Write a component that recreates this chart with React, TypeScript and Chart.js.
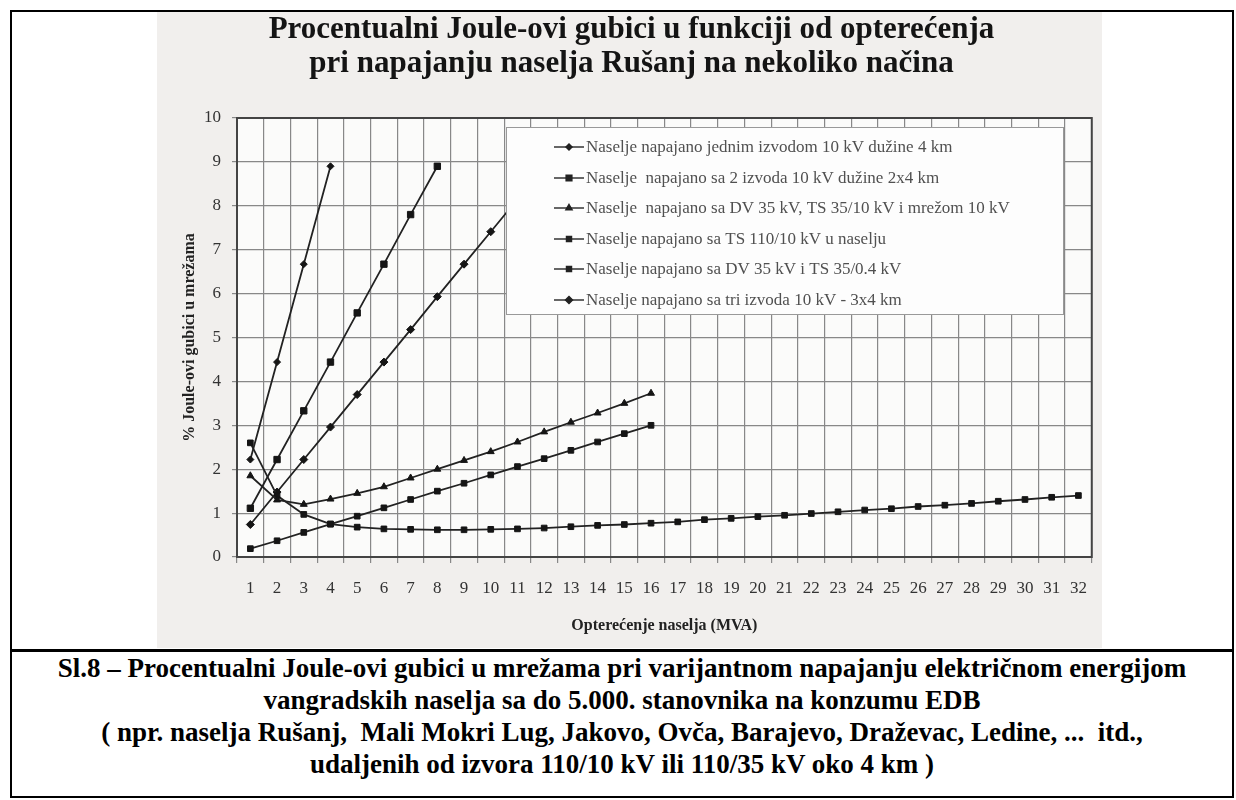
import React, { useEffect, useRef } from "react";
import { Chart, registerables } from "chart.js";
import { drawPoint } from "chart.js/helpers";

Chart.register(...registerables);

const categories = [
  "1", "2", "3", "4", "5", "6", "7", "8", "9", "10", "11", "12", "13", "14", "15", "16",
  "17", "18", "19", "20", "21", "22", "23", "24", "25", "26", "27", "28", "29", "30", "31", "32",
];

const seriesLabels = [
  "Naselje napajano jednim izvodom 10 kV dužine 4 km",
  "Naselje  napajano sa 2 izvoda 10 kV dužine 2x4 km",
  "Naselje  napajano sa DV 35 kV, TS 35/10 kV i mrežom 10 kV",
  "Naselje napajano sa TS 110/10 kV u naselju",
  "Naselje napajano sa DV 35 kV i TS 35/0.4 kV",
  "Naselje napajano sa tri izvoda 10 kV - 3x4 km",
];

const oneFeeder = [2.22, 4.44, 6.67, 8.9];
const twoFeeders = [1.11, 2.22, 3.33, 4.44, 5.56, 6.67, 7.8, 8.9];
const dv35Ts3510 = [1.85, 1.3, 1.2, 1.32, 1.45, 1.6, 1.8, 2.0, 2.2, 2.4, 2.62, 2.85, 3.07, 3.28, 3.5, 3.73];
const ts11010 = [
  2.6, 1.4, 0.97, 0.75, 0.68, 0.64, 0.63, 0.62, 0.62, 0.63, 0.64, 0.66, 0.69, 0.72, 0.74, 0.77,
  0.8, 0.85, 0.88, 0.92, 0.95, 0.99, 1.03, 1.07, 1.1, 1.15, 1.18, 1.22, 1.27, 1.31, 1.36, 1.4,
];
const dv35Ts3504 = [0.19, 0.37, 0.56, 0.75, 0.93, 1.12, 1.31, 1.5, 1.68, 1.87, 2.06, 2.24, 2.43, 2.62, 2.81, 3.0];
const threeFeeders = [0.74, 1.48, 2.22, 2.96, 3.7, 4.44, 5.18, 5.93, 6.67, 7.41, 8.15, 8.89];

const yTicks = [0, 1, 2, 3, 4, 5, 6, 7, 8, 9, 10];

const chartTitle = [
  "Procentualni Joule-ovi gubici u funkciji od opterećenja",
  "pri napajanju naselja Rušanj na nekoliko načina",
];
const xTitle = "Opterećenje naselja (MVA)";
const yTitle = "% Joule-ovi gubici u mrežama";

const captionLines = [
  "Sl.8 – Procentualni Joule-ovi gubici u mrežama pri varijantnom napajanju električnom energijom",
  "vangradskih naselja sa do 5.000. stanovnika na konzumu EDB",
  "( npr. naselja Rušanj,  Mali Mokri Lug, Jakovo, Ovča, Barajevo, Draževac, Ledine, ...  itd.,",
  "udaljenih od izvora 110/10 kV ili 110/35 kV oko 4 km )",
];

const SERIF = "'Liberation Serif', 'Times New Roman', serif";

const pointStyles = ["rectRot", "rect", "triangle", "rect", "rect", "rectRot"];
const pointRadii = [3.5, 4.5, 4, 4, 4, 4];

const bgPlugin = {
  id: "scanBg",
  beforeDraw(chart: any) {
    const { ctx, chartArea, width, height } = chart;
    ctx.save();
    ctx.fillStyle = "#f1efed";
    ctx.fillRect(0, 0, width, height);
    ctx.fillStyle = "#fbfbfa";
    ctx.fillRect(chartArea.left, chartArea.top, chartArea.right - chartArea.left, chartArea.bottom - chartArea.top);
    ctx.restore();
  },
  beforeDatasetsDraw(chart: any) {
    const { ctx, chartArea } = chart;
    ctx.save();
    ctx.strokeStyle = "#444";
    ctx.lineWidth = 2;
    ctx.strokeRect(chartArea.left, chartArea.top, chartArea.right - chartArea.left, chartArea.bottom - chartArea.top);
    ctx.restore();
  },
  afterDraw(chart: any) {
    const { ctx, width } = chart;
    ctx.save();
    ctx.fillStyle = "#141414";
    ctx.font = `bold 31px ${SERIF}`;
    ctx.textAlign = "center";
    ctx.textBaseline = "middle";
    ctx.fillText(chartTitle[0], width / 2 + 2, 18);
    ctx.fillText(chartTitle[1], width / 2 + 2, 52);
    ctx.restore();
  },
};

const legendPlugin = {
  id: "boxLegend",
  afterDatasetsDraw(chart: any) {
    const { ctx } = chart;
    const bx = 349, by = 115, bw = 557, bh = 187;
    ctx.save();
    ctx.fillStyle = "#fdfdfd";
    ctx.fillRect(bx, by, bw, bh);
    ctx.strokeStyle = "#999";
    ctx.lineWidth = 1;
    ctx.strokeRect(bx + 0.5, by + 0.5, bw, bh);
    const ys = [135, 166, 196, 227, 257, 288];
    chart.data.datasets.forEach((ds: any, i: number) => {
      const y = ys[i];
      ctx.strokeStyle = "#333";
      ctx.lineWidth = 1.5;
      ctx.beginPath();
      ctx.moveTo(397, y);
      ctx.lineTo(427, y);
      ctx.stroke();
      ctx.fillStyle = "#222";
      ctx.strokeStyle = "#222";
      drawPoint(ctx, { pointStyle: ds.pointStyle, radius: ds.pointRadius - 0.5, rotation: 0, borderWidth: 1 } as any, 412, y);
      ctx.fillStyle = "#505050";
      ctx.font = `17px ${SERIF}`;
      ctx.textAlign = "left";
      ctx.textBaseline = "middle";
      ctx.fillText(ds.label, 429, y + 1);
    });
    ctx.restore();
  },
};

export default function App() {
  const ref = useRef<HTMLCanvasElement>(null);

  useEffect(() => {
    const canvas = ref.current;
    if (!canvas) return;
    const allSeries = [oneFeeder, twoFeeders, dv35Ts3510, ts11010, dv35Ts3504, threeFeeders];
    const chart = new Chart(canvas, {
      type: "line",
      data: {
        labels: categories,
        datasets: allSeries.map((d, i) => ({
          label: seriesLabels[i],
          data: d,
          borderColor: "#222",
          backgroundColor: "#151515",
          borderWidth: 1.8,
          pointStyle: pointStyles[i] as any,
          pointRadius: pointRadii[i],
          pointBackgroundColor: "#151515",
          pointBorderColor: "#151515",
          pointBorderWidth: 1,
          tension: 0,
          fill: false,
        })),
      },
      options: {
        animation: false,
        responsive: false,
        layout: { padding: { top: 106, right: 6, left: 0, bottom: 0 } },
        plugins: { legend: { display: false }, tooltip: { enabled: false } },
        scales: {
          x: {
            type: "category",
            offset: true,
            grid: { offset: true, color: "#888", lineWidth: 1.2, tickLength: 6, drawTicks: true },
            border: { display: false },
            ticks: { autoSkip: false, maxRotation: 0, minRotation: 0, padding: 15, color: "#333", font: { family: SERIF, size: 17 } },
            title: {
              display: true,
              text: xTitle,
              color: "#222",
              font: { family: SERIF, size: 16, weight: "bold" },
              padding: { top: 0, bottom: 13 },
            },
            afterFit: (s: any) => {
              s.height = 91;
            },
          },
          y: {
            min: 0,
            max: 10,
            afterBuildTicks: (s: any) => {
              s.ticks = yTicks.map((v) => ({ value: v }));
            },
            grid: { color: "#888", lineWidth: 1.2, tickLength: 5, drawTicks: true },
            border: { display: false },
            ticks: { padding: 11, color: "#333", font: { family: SERIF, size: 17 } },
            title: {
              display: true,
              text: yTitle,
              color: "#222",
              font: { family: SERIF, size: 16, weight: "bold" },
              padding: { top: 23, bottom: 0 },
            },
            afterFit: (s: any) => {
              s.width = 80;
            },
          },
        },
      } as any,
      plugins: [bgPlugin, legendPlugin],
    });
    return () => chart.destroy();
  }, []);

  return (
    <div style={{ position: "absolute", left: 0, top: 0, width: 1236, height: 800, background: "#fff" }}>
      <div
        style={{
          position: "absolute",
          left: 10,
          top: 10,
          width: 1224,
          height: 788,
          border: "2px solid #000",
          boxSizing: "border-box",
        }}
      />
      <canvas
        ref={ref}
        width={945}
        height={636}
        style={{ position: "absolute", left: 157, top: 12, width: 945, height: 636 }}
      />
      <div style={{ position: "absolute", left: 10, top: 649, width: 1224, height: 3, background: "#000" }} />
      <div
        style={{
          position: "absolute",
          left: 12,
          top: 652,
          width: 1220,
          textAlign: "center",
          fontFamily: SERIF,
          fontWeight: "bold",
          fontSize: 27,
          lineHeight: "32px",
          color: "#000",
          whiteSpace: "pre",
        }}
      >
        {captionLines.map((l, i) => (
          <div key={i}>{l}</div>
        ))}
      </div>
    </div>
  );
}
